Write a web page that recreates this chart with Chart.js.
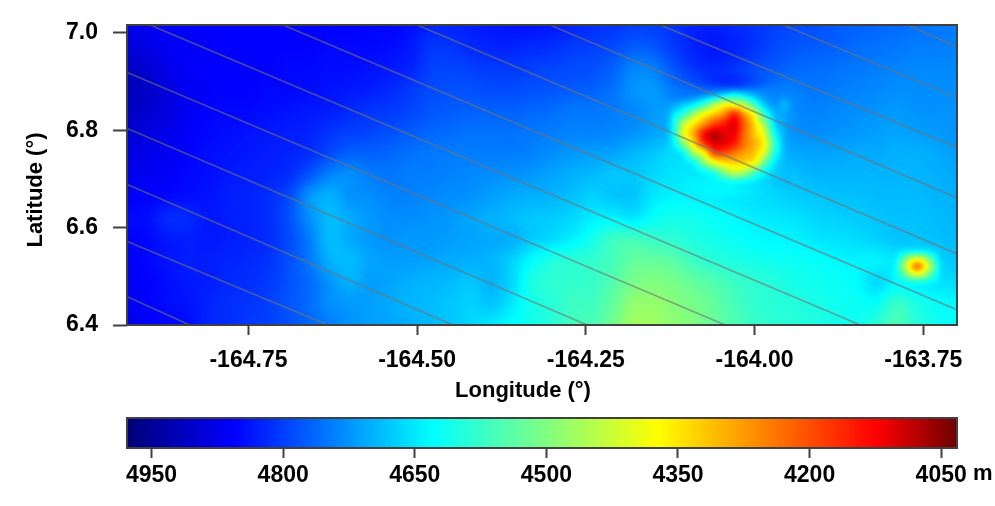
<!DOCTYPE html>
<html>
<head>
<meta charset="utf-8">
<script src="https://cdn.jsdelivr.net/npm/chart.js@4"></script>
<style>
    html, body { margin: 0; padding: 0; background: #fff; }
    canvas { position: absolute; left: 0; filter: blur(0.5px); }
    #map-chart { top: 0; }
    #bar-chart { top: 400px; }
</style>
</head>
<body>
<canvas id="map-chart" width="995" height="412"></canvas>
<canvas id="bar-chart" width="995" height="106"></canvas>
<script>
// Axis ticks
const lonTicks = [-164.75, -164.5, -164.25, -164, -163.75];
const latTicks = [6.4, 6.6, 6.8, 7.0];
const depthTicks = [4950, 4800, 4650, 4500, 4350, 4200, 4050];

// Depth colour ramp
const stopDepths = [4978, 4855, 4630, 4500, 4373, 4125, 4032];
const stopReds = [0, 0, 0, 128, 255, 255, 110];
const stopGreens = [0, 0, 255, 255, 255, 0, 0];
const stopBlues = [120, 255, 255, 128, 0, 0, 0];

// Ship tracks (gray lines)
const trackLon1 = [-164.896, -164.9287, -164.9287, -164.9287, -164.9287, -164.9287, -164.6988, -164.5, -164.303, -164.14, -163.9575, -163.7736];
const trackLat1 = [7.016, 6.918, 6.803, 6.688, 6.571, 6.4576, 7.016, 7.016, 7.016, 7.016, 7.016, 7.016];
const trackLon2 = [-163.843, -164.0434, -164.248, -164.4468, -164.632, -164.8367, -163.6995, -163.6995, -163.6995, -163.6995, -163.6995, -163.6995];
const trackLat2 = [6.4, 6.4, 6.4, 6.4, 6.4, 6.4, 6.431, 6.546, 6.661, 6.764, 6.8666, 6.971];

// Depth grid, whole map, top row first
const baseLonStart = -164.93, baseLonStep = 0.03;
const baseLatStart = 7.016, baseLatStep = -0.044;
const baseDepths = [
    [4875,4870,4860,4860,4855,4855,4855,4855,4855,4855,4855,4855,4850,4850,4845,4825,4825,4830,4835,4840,4840,4835,4825,4815,4810,4800,4800,4810,4825,4830,4820,4810,4800,4790,4785,4775,4770,4765,4760,4755,4750,4745],
    [4890,4880,4865,4860,4860,4855,4855,4855,4855,4855,4850,4850,4850,4845,4835,4810,4810,4820,4825,4825,4820,4815,4805,4800,4790,4775,4780,4805,4825,4835,4825,4810,4790,4780,4775,4770,4760,4755,4750,4745,4745,4740],
    [4905,4895,4875,4860,4855,4855,4855,4855,4850,4850,4845,4845,4840,4835,4825,4800,4795,4800,4805,4805,4800,4795,4790,4785,4770,4740,4745,4780,4810,4820,4810,4790,4775,4765,4760,4755,4750,4745,4740,4735,4735,4735],
    [4915,4905,4885,4865,4860,4855,4855,4850,4850,4845,4840,4835,4830,4820,4805,4790,4785,4785,4790,4790,4785,4780,4775,4770,4755,4725,4720,4750,4760,4770,4770,4755,4745,4745,4750,4745,4740,4735,4730,4730,4730,4730],
    [4910,4900,4885,4865,4855,4850,4850,4845,4840,4835,4830,4820,4810,4805,4795,4780,4775,4770,4770,4770,4765,4760,4750,4750,4745,4735,4720,4700,4600,4400,4300,4450,4680,4730,4740,4735,4730,4725,4720,4725,4725,4725],
    [4895,4885,4875,4860,4850,4845,4840,4835,4830,4825,4810,4800,4795,4785,4775,4765,4760,4755,4755,4755,4750,4745,4740,4740,4735,4725,4710,4680,4500,4300,4300,4450,4690,4725,4730,4725,4720,4715,4710,4715,4720,4725],
    [4880,4875,4865,4855,4845,4840,4835,4830,4825,4815,4790,4770,4770,4765,4755,4750,4745,4745,4745,4745,4740,4730,4720,4715,4710,4695,4680,4650,4560,4400,4400,4550,4680,4705,4710,4710,4705,4705,4700,4700,4705,4715],
    [4870,4865,4860,4850,4845,4835,4830,4825,4815,4780,4740,4730,4745,4750,4745,4745,4740,4735,4730,4725,4720,4710,4700,4690,4680,4680,4665,4650,4630,4580,4580,4630,4670,4685,4695,4695,4695,4695,4695,4695,4700,4705],
    [4860,4855,4850,4845,4840,4830,4825,4815,4790,4725,4700,4725,4730,4740,4740,4735,4730,4725,4715,4705,4700,4695,4685,4670,4680,4680,4650,4640,4640,4640,4645,4655,4665,4675,4680,4685,4685,4690,4690,4690,4695,4700],
    [4850,4845,4820,4820,4835,4830,4825,4815,4785,4730,4690,4705,4720,4730,4730,4725,4720,4710,4700,4690,4680,4675,4665,4645,4640,4650,4625,4610,4615,4625,4635,4645,4650,4655,4665,4670,4675,4680,4685,4685,4690,4695],
    [4855,4850,4835,4830,4835,4830,4825,4815,4790,4745,4690,4705,4720,4725,4720,4720,4715,4710,4705,4700,4675,4660,4640,4610,4570,4565,4575,4585,4600,4610,4620,4630,4635,4640,4650,4655,4660,4670,4680,4680,4685,4690],
    [4860,4850,4840,4830,4830,4825,4820,4810,4785,4750,4700,4690,4710,4715,4715,4710,4705,4700,4695,4670,4630,4600,4590,4580,4560,4530,4530,4540,4570,4590,4600,4610,4615,4620,4625,4635,4640,4640,4650,4660,4670,4680],
    [4865,4855,4845,4835,4830,4820,4815,4805,4785,4760,4725,4700,4715,4710,4700,4695,4690,4680,4695,4665,4605,4585,4580,4575,4545,4510,4500,4510,4530,4550,4570,4585,4595,4610,4615,4620,4630,4660,4640,4650,4655,4660],
    [4865,4855,4845,4840,4825,4815,4810,4800,4780,4760,4730,4720,4715,4705,4695,4690,4680,4670,4680,4650,4610,4590,4570,4565,4530,4485,4480,4495,4510,4530,4560,4580,4590,4595,4605,4615,4620,4625,4575,4605,4625,4635],
    [4870,4860,4850,4845,4825,4815,4805,4800,4785,4765,4745,4725,4715,4710,4700,4690,4680,4665,4650,4630,4610,4590,4565,4555,4515,4470,4470,4485,4500,4530,4550,4575,4585,4590,4600,4610,4615,4590,4555,4590,4615,4625]
];

// Finer grid over the big seamount
const hillLonStart = -164.135, hillLonStep = 0.015;
const hillLatStart = 6.893, hillLatStep = -0.02;
const hillDepths = [
    [4735,4745,4760,4770,4780,4785,4780,4770,4760,4755,4750,4745,4745,4745],
    [4730,4745,4750,4745,4730,4700,4660,4630,4660,4700,4730,4740,4735,4735],
    [4720,4710,4680,4640,4570,4470,4390,4400,4450,4570,4680,4720,4695,4720],
    [4710,4650,4580,4470,4380,4320,4260,4170,4280,4400,4580,4690,4710,4725],
    [4690,4620,4440,4350,4270,4190,4150,4110,4220,4340,4480,4660,4710,4725],
    [4680,4620,4400,4290,4140,4085,4110,4120,4230,4320,4420,4620,4700,4725],
    [4670,4640,4490,4340,4180,4105,4115,4150,4240,4300,4380,4580,4695,4715],
    [4670,4660,4620,4470,4370,4200,4200,4240,4280,4320,4420,4600,4690,4710],
    [4660,4660,4650,4620,4500,4400,4350,4330,4340,4380,4530,4650,4690,4700],
    [4660,4655,4650,4650,4630,4590,4500,4440,4470,4550,4630,4670,4685,4695],
    [4655,4650,4645,4640,4640,4640,4630,4620,4630,4650,4665,4680,4685,4690],
    [4650,4645,4640,4640,4640,4645,4650,4655,4660,4665,4670,4675,4680,4685]
];

// Finer grid over the small seamount on the right
const spotLonStart = -163.799, spotLonStep = 0.01;
const spotLatStart = 6.565, spotLatStep = -0.015;
const spotDepths = [
    [4670,4670,4670,4670,4665,4665,4670,4675,4680],
    [4660,4655,4630,4610,4600,4610,4640,4665,4680],
    [4650,4620,4530,4430,4390,4430,4530,4630,4670],
    [4640,4600,4480,4350,4250,4340,4470,4600,4665],
    [4630,4610,4540,4440,4400,4440,4540,4620,4660],
    [4630,4630,4610,4590,4580,4590,4620,4640,4650],
    [4630,4630,4630,4625,4625,4630,4640,4650,4655]
];

const fontFamily = '"Liberation Sans", Arial, sans-serif';
const textColor = '#000';
const axisColor = '#404040';
const labelFont = { family: fontFamily, size: 23, weight: 'bold' };

// Function to turn a depth into a colour
function depthColor(depth) {
    let i = 0;
    while (i < stopDepths.length - 2 && depth < stopDepths[i + 1]) i++;
    let t = (stopDepths[i] - depth) / (stopDepths[i] - stopDepths[i + 1]);
    t = Math.max(0, Math.min(1, t));
    return [
        stopReds[i] + (stopReds[i + 1] - stopReds[i]) * t,
        stopGreens[i] + (stopGreens[i + 1] - stopGreens[i]) * t,
        stopBlues[i] + (stopBlues[i + 1] - stopBlues[i]) * t
    ];
}

function cubic(a, b, c, d, t) {
    return b + 0.5 * t * (c - a + t * (2 * a - 5 * b + 4 * c - d + t * (3 * (b - c) + d - a)));
}

// Read a grid at fractional row and column
function sampleGrid(grid, row, col) {
    const rows = grid.length, cols = grid[0].length;
    const r0 = Math.floor(row), c0 = Math.floor(col);
    const values = [];
    for (let r = r0 - 1; r <= r0 + 2; r++) {
        const line = grid[Math.max(0, Math.min(rows - 1, r))];
        const at = c => line[Math.max(0, Math.min(cols - 1, c))];
        values.push(cubic(at(c0 - 1), at(c0), at(c0 + 1), at(c0 + 2), col - c0));
    }
    return cubic(values[0], values[1], values[2], values[3], row - r0);
}

// Depth at a map position, fine grids win over the base grid inside their area
function depthAt(lon, lat) {
    let depth = sampleGrid(baseDepths, (lat - baseLatStart) / baseLatStep, (lon - baseLonStart) / baseLonStep);
    const patches = [
        [hillDepths, hillLonStart, hillLonStep, hillLatStart, hillLatStep],
        [spotDepths, spotLonStart, spotLonStep, spotLatStart, spotLatStep]
    ];
    patches.forEach(([grid, lon0, dLon, lat0, dLat]) => {
        const row = (lat - lat0) / dLat, col = (lon - lon0) / dLon;
        const maxRow = grid.length - 1, maxCol = grid[0].length - 1;
        if (row < 0 || col < 0 || row > maxRow || col > maxCol) return;
        const w = Math.min(1, row, col, maxRow - row, maxCol - col);
        depth = depth * (1 - w) + sampleGrid(grid, row, col) * w;
    });
    return depth;
}

function drawFrame(chart) {
    const a = chart.chartArea, ctx = chart.ctx;
    ctx.save();
    ctx.strokeStyle = axisColor;
    ctx.lineWidth = 2;
    ctx.strokeRect(a.left, a.top, a.right - a.left, a.bottom - a.top);
    ctx.restore();
}

// Paints the depth raster under the tracks
const heatPlugin = {
    id: 'heat',
    beforeDatasetsDraw(chart) {
        const a = chart.chartArea, ctx = chart.ctx;
        const xs = chart.scales.x, ys = chart.scales.y;
        const margin = 4;
        const w = Math.round(a.right - a.left) + margin * 2;
        const h = Math.round(a.bottom - a.top) + margin * 2;
        const off = document.createElement('canvas');
        off.width = w;
        off.height = h;
        const offCtx = off.getContext('2d');
        const img = offCtx.createImageData(w, h);
        for (let py = 0; py < h; py++) {
            const lat = ys.getValueForPixel(a.top - margin + py + 0.5);
            for (let px = 0; px < w; px++) {
                const lon = xs.getValueForPixel(a.left - margin + px + 0.5);
                const c = depthColor(depthAt(lon, lat));
                const k = (py * w + px) * 4;
                img.data[k] = c[0];
                img.data[k + 1] = c[1];
                img.data[k + 2] = c[2];
                img.data[k + 3] = 255;
            }
        }
        offCtx.putImageData(img, 0, 0);
        ctx.save();
        ctx.beginPath();
        ctx.rect(a.left, a.top, a.right - a.left, a.bottom - a.top);
        ctx.clip();
        ctx.filter = 'blur(1px)';
        ctx.drawImage(off, a.left - margin, a.top - margin);
        ctx.restore();
    },
    afterDraw(chart) {
        drawFrame(chart);
        const ctx = chart.ctx;
        ctx.save();
        ctx.font = 'bold 22px ' + fontFamily;
        ctx.fillStyle = textColor;
        ctx.textAlign = 'center';
        ctx.textBaseline = 'middle';
        ctx.fillText('Longitude (°)', 523, 391);
        ctx.translate(36, 190);
        ctx.rotate(-Math.PI / 2);
        ctx.fillText('Latitude (°)', 0, 0);
        ctx.restore();
    }
};

// Paints the colour bar from the same ramp
const rampPlugin = {
    id: 'ramp',
    beforeDatasetsDraw(chart) {
        const a = chart.chartArea, ctx = chart.ctx, xs = chart.scales.x;
        for (let px = Math.floor(a.left); px < a.right; px++) {
            const c = depthColor(xs.getValueForPixel(px + 0.5));
            ctx.fillStyle = `rgb(${c[0]},${c[1]},${c[2]})`;
            ctx.fillRect(px, a.top, 1, a.bottom - a.top);
        }
    },
    afterDraw(chart) {
        drawFrame(chart);
        const ctx = chart.ctx;
        ctx.save();
        ctx.font = 'bold 22px ' + fontFamily;
        ctx.fillStyle = textColor;
        ctx.textBaseline = 'middle';
        ctx.fillText('m', 973, 74);
        ctx.restore();
    }
};

const trackSets = trackLon1.map((lon, i) => ({
    data: [{ x: lon, y: trackLat1[i] }, { x: trackLon2[i], y: trackLat2[i] }],
    showLine: true,
    pointRadius: 0,
    borderColor: 'rgba(115, 115, 115, 0.6)',
    borderWidth: 1.8
}));

new Chart(document.getElementById('map-chart').getContext('2d'), {
    type: 'scatter',
    data: { datasets: trackSets },
    plugins: [heatPlugin],
    options: {
        responsive: false,
        animation: false,
        layout: { padding: { top: 25, right: 38, bottom: 0, left: 0 } },
        plugins: { legend: { display: false }, tooltip: { enabled: false } },
        scales: {
            x: {
                type: 'linear',
                min: -164.93,
                max: -163.70,
                afterBuildTicks: axis => { axis.ticks = lonTicks.map(v => ({ value: v })); },
                afterFit: axis => { axis.height = 87; },
                grid: { drawOnChartArea: false, tickLength: 10, tickColor: axisColor, tickWidth: 2 },
                border: { display: false },
                ticks: {
                    font: labelFont,
                    color: textColor,
                    padding: 12,
                    maxRotation: 0,
                    callback: v => v.toFixed(2)
                }
            },
            y: {
                type: 'linear',
                min: 6.4,
                max: 7.016,
                afterBuildTicks: axis => { axis.ticks = latTicks.map(v => ({ value: v })); },
                afterFit: axis => { axis.width = 127; axis.paddingTop = 0; axis.paddingBottom = 0; },
                grid: { drawOnChartArea: false, tickLength: 14, tickColor: axisColor, tickWidth: 2 },
                border: { display: false },
                ticks: {
                    font: labelFont,
                    color: textColor,
                    padding: 15,
                    callback: v => v.toFixed(1)
                }
            }
        }
    }
});

new Chart(document.getElementById('bar-chart').getContext('2d'), {
    type: 'scatter',
    data: { datasets: [] },
    plugins: [rampPlugin],
    options: {
        responsive: false,
        animation: false,
        layout: { padding: { top: 18, right: 38, bottom: 0, left: 127 } },
        plugins: { legend: { display: false }, tooltip: { enabled: false } },
        scales: {
            x: {
                type: 'linear',
                reverse: true,
                min: 4032,
                max: 4978,
                afterBuildTicks: axis => { axis.ticks = depthTicks.map(v => ({ value: v })); },
                afterFit: axis => { axis.height = 58; },
                grid: { drawOnChartArea: false, tickLength: 10, tickColor: axisColor, tickWidth: 2 },
                border: { display: false },
                ticks: {
                    font: labelFont,
                    color: textColor,
                    padding: 4,
                    maxRotation: 0,
                    callback: v => String(v)
                }
            },
            y: { display: false, min: 0, max: 1 }
        }
    }
});
</script>
</body>
</html>
